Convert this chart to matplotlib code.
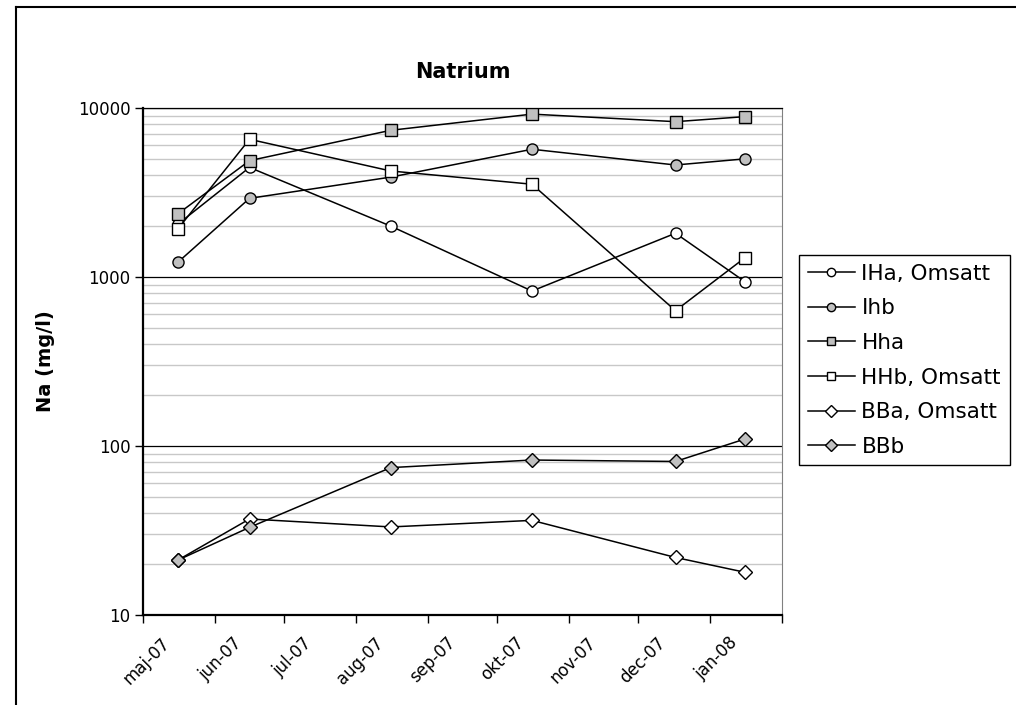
import numpy as np
import matplotlib.pyplot as plt
import matplotlib.dates as mdates
import matplotlib.transforms as mtransforms
from matplotlib.lines import Line2D
from datetime import date

# sample dates (roughly mid month)
dates = [date(2007, 5, 16), date(2007, 6, 16), date(2007, 8, 16),
         date(2007, 10, 16), date(2007, 12, 17), date(2008, 1, 16)]

iha = [2050, 4450, 2000, 826, 1815, 938]
ihb = [1220, 2920, 3900, 5700, 4600, 5000]
hha = [2360, 4880, 7380, 9200, 8300, 8890]
hhb = [1920, 6530, 4240, 3540, 632, 1300]
bba = [21.1, 37, 33.2, 36.3, 21.9, 17.9]
bbb = [21.1, 33, 74.5, 82.6, 81, 110]

names = ["IHa, Omsatt", "Ihb", "Hha", "HHb, Omsatt", "BBa, Omsatt", "BBb"]
markers = ["o", "o", "s", "s", "D", "D"]
fills = ["white", "#c0c0c0", "#c0c0c0", "white", "white", "#c0c0c0"]
sizes = [8, 8, 8, 8, 7.5, 7.5]

month_ticks = [date(2007, m, 1) for m in range(5, 13)] + [date(2008, 1, 1), date(2008, 2, 1)]
month_labels = ["maj-07", "jun-07", "jul-07", "aug-07", "sep-07", "okt-07",
                "nov-07", "dec-07", "jan-08", ""]

plt.rcParams['font.family'] = ['DejaVu Sans']

fig = plt.figure(figsize=(10.16, 7.05), dpi=100)
ax = fig.add_axes([143/1016, 1-615/705, 639/1016, 507/705])

series = [iha, ihb, hha, hhb, bba, bbb]
for vals, name, m, fc, ms in zip(series, names, markers, fills, sizes):
    ax.plot(dates, vals, color="black", lw=1.1, marker=m, ms=ms,
            mfc=fc, mec="black", mew=1.0, label=name, zorder=3)

ax.set_yscale("log")
ax.set_ylim(10, 10000)
ax.set_xlim(date(2007, 5, 1), date(2008, 2, 1))

ax.set_yticks([10, 100, 1000, 10000])
ax.set_yticklabels(["10", "100", "1000", "10000"])
ax.yaxis.set_minor_locator(plt.LogLocator(base=10, subs=np.arange(2, 10)))
ax.yaxis.set_minor_formatter(plt.NullFormatter())
ax.tick_params(axis="y", which="minor", length=0)
ax.tick_params(axis="y", which="major", length=6, width=1, labelsize=12, pad=3)

ax.set_xticks([mdates.date2num(d) for d in month_ticks])
ax.set_xticklabels(month_labels, rotation=45, ha="right", rotation_mode="anchor")
ax.tick_params(axis="x", length=6, width=1, labelsize=12, pad=4)
shift = mtransforms.ScaledTranslation(0.18, -0.05, fig.dpi_scale_trans)
for lab in ax.get_xticklabels():
    lab.set_transform(lab.get_transform() + shift)

ax.grid(True, which="major", axis="y", color="black", lw=0.9, zorder=1)
ax.grid(True, which="minor", axis="y", color="#c8c8c8", lw=1.0, zorder=1)

for s in ["left", "bottom"]:
    ax.spines[s].set_linewidth(1.6)
    ax.spines[s].set_color("black")
ax.spines["right"].set_color("#808080")
ax.spines["top"].set_color("black")
ax.spines["top"].set_linewidth(0.9)

ax.set_ylabel("Na (mg/l)", fontsize=14, fontweight="bold")
ax.yaxis.set_label_coords(-0.1377, 0.5)

fig.text(463/1016, 1-72/705, "Natrium", ha="center", va="center",
         fontsize=15, fontweight="bold")

leg = ax.legend(loc="upper left", bbox_to_anchor=(799/1016, 1-255/705),
                bbox_transform=fig.transFigure, fontsize=15.5, frameon=True,
                fancybox=False, edgecolor="black", framealpha=1,
                handlelength=2.2, handletextpad=0.3, labelspacing=0.68,
                borderpad=0.4, borderaxespad=0, markerscale=0.75)
leg.get_frame().set_linewidth(1.0)

# outer chart frame (cut at right and bottom)
fig.add_artist(Line2D([16/1016, 16/1016], [0, 1-7/705], color="black", lw=1.5,
                      transform=fig.transFigure))
fig.add_artist(Line2D([16/1016, 1], [1-7/705, 1-7/705], color="black", lw=1.5,
                      transform=fig.transFigure))

fig.savefig("out.png", dpi=100)
